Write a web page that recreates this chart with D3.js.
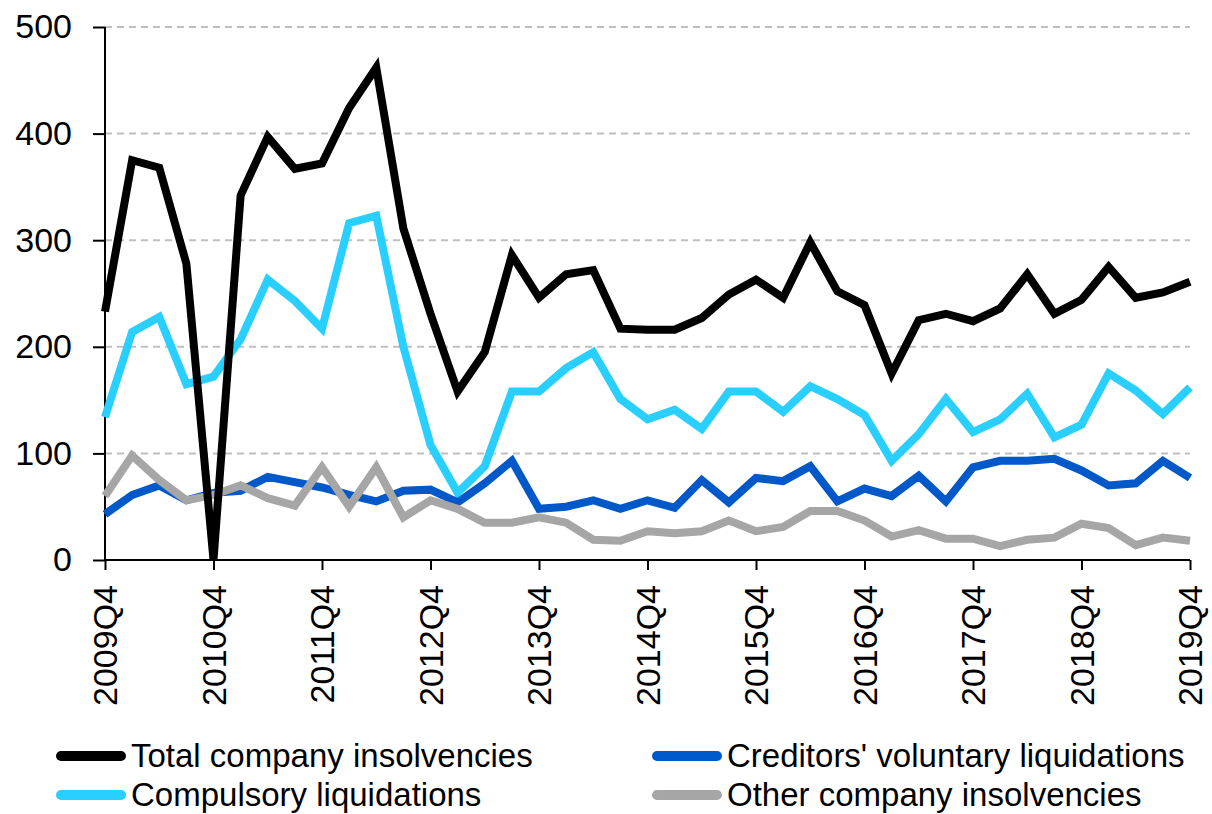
<!DOCTYPE html>
<html>
<head>
<meta charset="utf-8">
<script src="https://cdn.jsdelivr.net/npm/d3@7"></script>
<style>
  html, body { margin: 0; padding: 0; background: #fff; }
  svg { display: block; font-family: "Liberation Sans", Arial, sans-serif; }
</style>
</head>
<body>
<div class="js-chart"></div>
<script>
(function() {
  // quarters 2009Q4 .. 2019Q4
  var quarters = [];
  for (var yr = 2009; yr <= 2019; yr++) {
    ['Q1', 'Q2', 'Q3', 'Q4'].forEach(function(q) {
      var k = yr + q;
      if (k >= '2009Q4' && k <= '2019Q4') quarters.push(k);
    });
  }

  var totalInsolvencies = [233, 375, 368, 278, 0, 342, 397, 367, 372, 424, 462, 311, 231, 158,
    195, 286, 246, 268, 272, 217, 216, 216, 227, 249, 263, 246,
    298, 252, 239, 175, 225, 231, 224, 236, 268, 231, 244, 275, 246, 251, 261];
  var compulsory = [134, 214, 228, 165, 172, 207, 263, 243, 217, 316, 323, 200, 108, 63,
    88, 158, 158, 180, 195, 151, 132, 141, 123, 158, 158, 139,
    163, 151, 136, 93, 118, 151, 120, 132, 156, 115, 127, 175, 159, 137, 162];
  var creditorsVoluntary = [43, 61, 70, 56, 63, 65, 78, 73, 68, 61, 55, 65, 66, 54,
    72, 93, 48, 50, 56, 48, 56, 49, 75, 54, 77, 74,
    88, 55, 67, 60, 79, 55, 87, 93, 93, 95, 84, 70, 72, 93, 77];
  var otherInsolvencies = [60, 98, 75, 56, 61, 70, 58, 51, 87, 50, 87, 40, 56, 48,
    35, 35, 40, 35, 19, 18, 27, 25, 27, 37, 27, 31,
    46, 46, 37, 22, 28, 20, 20, 13, 19, 21, 34, 30, 14, 21, 18];

  var yTicks = [0, 100, 200, 300, 400, 500];
  var xTickLabels = ['2009Q4', '2010Q4', '2011Q4', '2012Q4', '2013Q4', '2014Q4',
    '2015Q4', '2016Q4', '2017Q4', '2018Q4', '2019Q4'];

  var series = [
    { name: 'Compulsory liquidations', values: compulsory, color: '#29cfff' },
    { name: "Creditors' voluntary liquidations", values: creditorsVoluntary, color: '#0058c9' },
    { name: 'Other company insolvencies', values: otherInsolvencies, color: '#a6a6a6' },
    { name: 'Total company insolvencies', values: totalInsolvencies, color: '#000000' }
  ];
  var legendOrder = [3, 1, 0, 2];

  var width = 1212
    , height = 814
    , margin = { top: 27, right: 22, bottom: 254, left: 105 }
    , innerW = width - margin.left - margin.right
    , innerH = height - margin.top - margin.bottom
    ;

  var x = d3.scalePoint().domain(quarters).range([0, innerW])
    , y = d3.scaleLinear().domain([0, 500]).range([innerH, 0])
    ;

  var svg = d3.select('.js-chart').append('svg')
        .attr('width', width)
        .attr('height', height)
    , g = svg.append('g')
        .attr('transform', 'translate(' + margin.left + ',' + margin.top + ')')
    ;

  // grid
  g.append('g')
    .selectAll('line')
    .data(yTicks.filter(d => d > 0))
    .enter().append('line')
      .attr('x1', 0).attr('x2', innerW)
      .attr('y1', d => y(d)).attr('y2', d => y(d))
      .attr('stroke', '#bfbfbf')
      .attr('stroke-width', 2)
      .attr('stroke-dasharray', '7,5');

  // y axis
  var yAxis = g.append('g')
    .call(d3.axisLeft(y).tickValues(yTicks).tickSize(12).tickPadding(21).tickFormat(d3.format('d')));
  yAxis.select('.domain').attr('stroke', '#000').attr('stroke-width', 2).attr('d', 'M0,' + innerH + 'V0');
  yAxis.selectAll('.tick line').attr('stroke', '#000').attr('stroke-width', 2);
  yAxis.selectAll('text')
    .attr('font-size', 34)
    .attr('fill', '#000')
    .attr('font-family', '"Liberation Sans", Arial, sans-serif');

  // x axis
  var xAxis = g.append('g')
    .attr('transform', 'translate(0,' + innerH + ')')
    .call(d3.axisBottom(x).tickValues(xTickLabels).tickSize(10).tickSizeOuter(0));
  xAxis.select('.domain').attr('stroke', '#000').attr('stroke-width', 2).attr('d', 'M0,0H' + innerW);
  xAxis.selectAll('.tick line').attr('stroke', '#000').attr('stroke-width', 2);
  xAxis.selectAll('text')
    .attr('font-size', 34)
    .attr('fill', '#000')
    .attr('font-family', '"Liberation Sans", Arial, sans-serif')
    .attr('text-anchor', 'end')
    .attr('transform', 'rotate(-90)')
    .attr('x', -25)
    .attr('y', 0)
    .attr('dy', '0.35em');

  // lines
  var line = d3.line()
    .x((d, i) => x(quarters[i]))
    .y(d => y(d));

  g.append('g')
    .selectAll('path')
    .data(series)
    .enter().append('path')
      .attr('d', d => line(d.values))
      .attr('fill', 'none')
      .attr('stroke', d => d.color)
      .attr('stroke-width', 8)
      .attr('stroke-linejoin', 'miter')
      .attr('stroke-miterlimit', 10);

  // legend
  var legendPos = [
    { x: 57, y: 756 }, { x: 653, y: 756 },
    { x: 57, y: 795 }, { x: 653, y: 795 }
  ];
  var gKey = svg.append('g');
  var items = gKey.selectAll('g')
    .data(legendOrder.map(i => series[i]))
    .enter().append('g')
      .attr('transform', (d, i) => 'translate(' + legendPos[i].x + ',' + legendPos[i].y + ')');
  items.append('line')
    .attr('x1', 4).attr('x2', 64)
    .attr('y1', 0).attr('y2', 0)
    .attr('stroke', d => d.color)
    .attr('stroke-width', 10)
    .attr('stroke-linecap', 'round');
  items.append('text')
    .attr('x', 74)
    .attr('y', 0)
    .attr('dy', '0.32em')
    .attr('font-size', 33)
    .attr('fill', '#000')
    .text(d => d.name);
})();
</script>
</body>
</html>
